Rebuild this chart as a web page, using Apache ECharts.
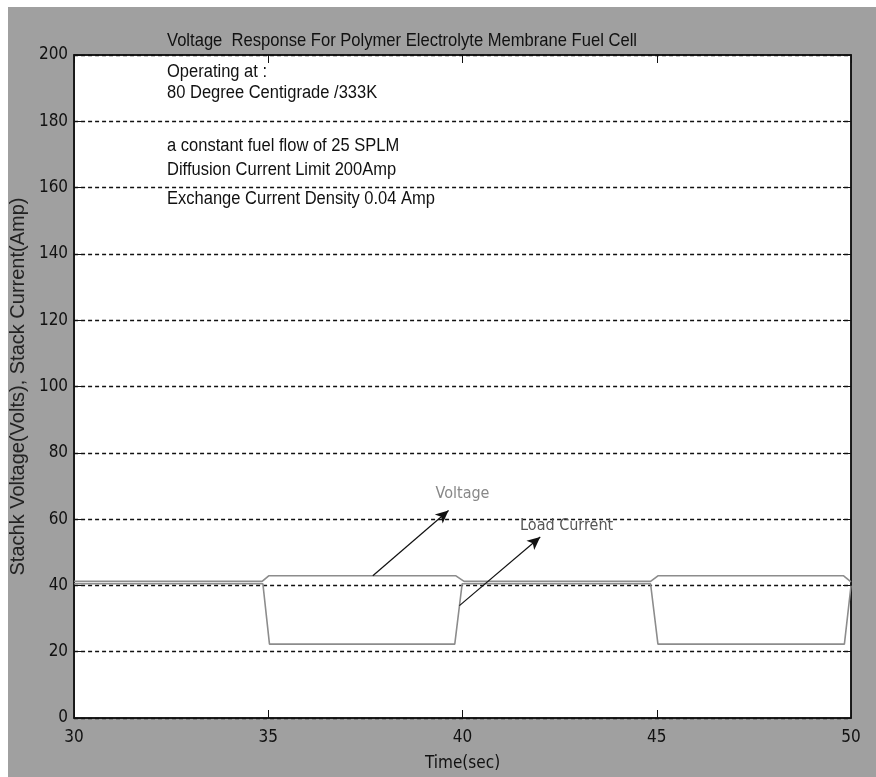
<!DOCTYPE html>
<html>
<head>
<meta charset="utf-8">
<script src="https://cdn.jsdelivr.net/npm/echarts@6/dist/echarts.min.js"></script>
<style>
html,body{margin:0;padding:0;background:#fff;}
#c{width:876px;height:777px;}
</style>
</head>
<body>
<div id="c"></div>
<script>
// ---- data ----
const titleText = 'Voltage  Response For Polymer Electrolyte Membrane Fuel Cell';
const noteLines = [
  'Operating at :',
  '80 Degree Centigrade /333K',
  'a constant fuel flow of 25 SPLM',
  'Diffusion Current Limit 200Amp',
  'Exchange Current Density 0.04 Amp'
];
const xAxisName = 'Time(sec)';
const yAxisName = 'Stachk Voltage(Volts), Stack Current(Amp)';
const xTicks = [30, 35, 40, 45, 50];
const yTicks = [0, 20, 40, 60, 80, 100, 120, 140, 160, 180, 200];

const voltageTime = [30, 34.84, 35.01, 39.83, 40.04, 44.84, 45.03, 49.81, 50];
const voltageVals = [41.2, 41.2, 42.9, 42.9, 41.2, 41.2, 42.9, 42.9, 41.1];
const currentTime = [30, 34.86, 35.03, 39.80, 39.99, 44.84, 45.03, 49.83, 50];
const currentVals = [40.5, 40.5, 22.3, 22.3, 40.5, 40.5, 22.3, 22.3, 39.9];

const voltageArrow = [[37.69, 42.9], [39.64, 62.6]];
const currentArrow = [[39.92, 33.9], [42.0, 54.6]];
const voltageLabelAt = [40.0, 67.7];
const currentLabelAt = [42.68, 58.0];

// ---- layout / style ----
const sans = "'Liberation Sans', Arial, Helvetica, sans-serif";
const narrow = "'DejaVu Sans Condensed', 'Liberation Sans', Arial, sans-serif";
const noteY = [72, 93, 146, 170, 199];

const measure = (() => {
  const ctx = document.createElement('canvas').getContext('2d');
  return (text, font) => { ctx.font = font; return ctx.measureText(text).width; };
})();
const titleFont = "19px " + sans;
const noteFont = "18px " + sans;
const titleScale = 470 / measure(titleText, titleFont);
const noteScale = 268 / measure(noteLines[4], noteFont);

const chart = echarts.init(document.getElementById('c'), null, {renderer: 'canvas'});
const toPairs = (xs, ys) => xs.map((x, i) => [x, ys[i]]);

const tickStyle = {show: true, inside: true, length: 8, lineStyle: {color: '#111', width: 1}};
const axisLine = {show: true, onZero: false, lineStyle: {color: '#111', width: 1.5}};

const graphics = [
  {type: 'rect', x: 8, y: 7, shape: {width: 868, height: 770}, style: {fill: '#a0a0a0'}, z: -10},
  {type: 'text', x: 167, y: 41, scaleX: titleScale, style: {text: titleText, font: titleFont, fill: '#111', verticalAlign: 'middle'}, z: 10}
];
noteLines.forEach((t, i) => {
  graphics.push({type: 'text', x: 167, y: noteY[i], scaleX: noteScale, style: {text: t, font: noteFont, fill: '#111', verticalAlign: 'middle'}, z: 10});
});

const option = {
  backgroundColor: '#ffffff',
  animation: false,
  graphic: graphics,
  grid: {left: 66, right: 25, top: 55, bottom: 57, show: true, backgroundColor: '#ffffff', borderColor: '#111', borderWidth: 1.5, containLabel: false},
  xAxis: [
    {
      type: 'value', min: xTicks[0], max: xTicks[xTicks.length - 1], interval: 5, position: 'bottom',
      name: xAxisName, nameLocation: 'middle', nameGap: 37,
      nameTextStyle: {fontFamily: narrow, fontSize: 17, color: '#111'},
      axisLine: axisLine, axisTick: tickStyle,
      axisLabel: {fontFamily: narrow, fontSize: 17, color: '#111', margin: 11},
      splitLine: {show: false}
    },
    {
      type: 'value', min: xTicks[0], max: xTicks[xTicks.length - 1], interval: 5, position: 'top',
      axisLine: axisLine, axisTick: tickStyle, axisLabel: {show: false}, splitLine: {show: false}
    }
  ],
  yAxis: [
    {
      type: 'value', min: yTicks[0], max: yTicks[yTicks.length - 1], interval: 20, position: 'left',
      name: yAxisName, nameLocation: 'middle', nameGap: 38, nameRotate: 90,
      nameTextStyle: {fontFamily: sans, fontSize: 20, color: '#222'},
      axisLine: axisLine, axisTick: tickStyle,
      axisLabel: {fontFamily: narrow, fontSize: 17, color: '#111', margin: 6},
      splitLine: {show: true, lineStyle: {color: '#111', width: 1.3, type: [4, 3]}}
    },
    {
      type: 'value', min: yTicks[0], max: yTicks[yTicks.length - 1], interval: 20, position: 'right',
      axisLine: axisLine, axisTick: tickStyle, axisLabel: {show: false}, splitLine: {show: false}
    }
  ],
  series: [
    {
      name: 'Voltage', type: 'line', data: toPairs(voltageTime, voltageVals),
      symbol: 'none', lineStyle: {color: '#8c8c8c', width: 1.6}, z: 3,
      markLine: {
        silent: true, symbol: ['none', 'arrow'], symbolSize: [9, 13],
        lineStyle: {color: '#111', width: 1.2, type: 'solid'}, label: {show: false},
        data: [[{coord: voltageArrow[0]}, {coord: voltageArrow[1]}]]
      },
      markPoint: {
        silent: true, symbol: 'circle', symbolSize: 0,
        label: {show: true, formatter: 'Voltage', fontFamily: narrow, fontSize: 16, color: '#888', position: 'inside'},
        data: [{coord: voltageLabelAt}]
      }
    },
    {
      name: 'Load Current', type: 'line', data: toPairs(currentTime, currentVals),
      symbol: 'none', lineStyle: {color: '#8c8c8c', width: 1.6}, z: 3,
      markLine: {
        silent: true, symbol: ['none', 'arrow'], symbolSize: [9, 13],
        lineStyle: {color: '#111', width: 1.2, type: 'solid'}, label: {show: false},
        data: [[{coord: currentArrow[0]}, {coord: currentArrow[1]}]]
      },
      markPoint: {
        silent: true, symbol: 'circle', symbolSize: 0,
        label: {show: true, formatter: 'Load Current', fontFamily: narrow, fontSize: 16, color: '#555', position: 'inside'},
        data: [{coord: currentLabelAt}]
      }
    }
  ]
};
chart.setOption(option);
</script>
</body>
</html>
